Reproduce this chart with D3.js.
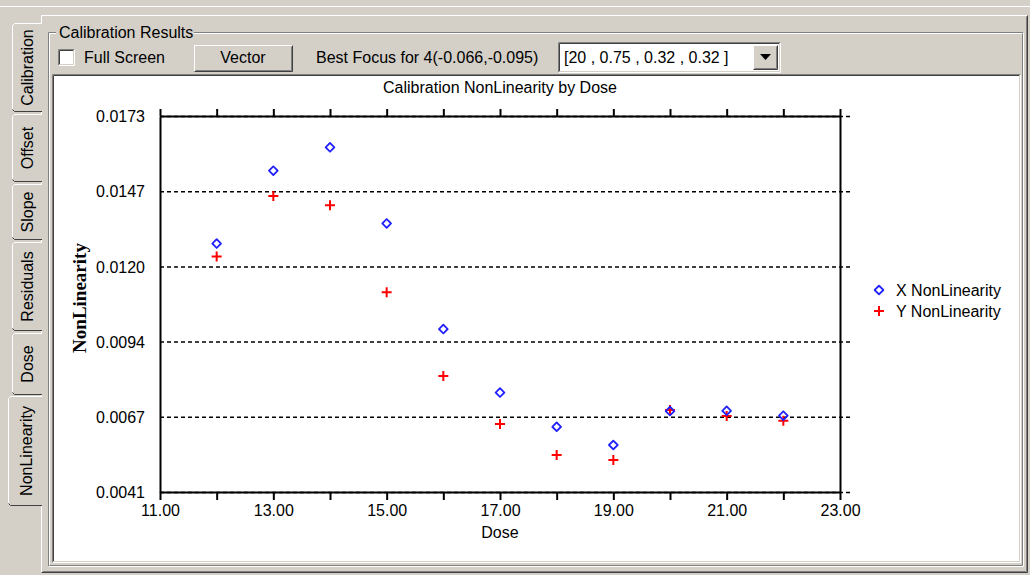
<!DOCTYPE html>
<html>
<head>
<meta charset="utf-8">
<script src="https://cdn.jsdelivr.net/npm/d3@7"></script>
<style>
  body { margin: 0; background: #d4d0c8; }
  text { font-family: "Liberation Sans", Arial, sans-serif; fill: #000; }
</style>
</head>
<body>
<div id="chart"></div>
<script>
// data
var doses = [12, 13, 14, 15, 16, 17, 18, 19, 20, 21, 22];
var xNonLinearity = [0.01282, 0.01538, 0.01620, 0.01353, 0.00982, 0.00759, 0.00639, 0.00575, 0.00694, 0.00695, 0.00678];
var yNonLinearity = [0.01237, 0.01449, 0.01417, 0.01111, 0.00817, 0.00649, 0.00540, 0.00522, 0.00698, 0.00677, 0.00660];
var yTickValues = [0.0041, 0.00674, 0.00938, 0.01202, 0.01466, 0.0173];
var xTickValues = [11, 12, 13, 14, 15, 16, 17, 18, 19, 20, 21, 22, 23];
var tabNames = ["Calibration", "Offset", "Slope", "Residuals", "Dose", "NonLinearity"];
var tabEdges = [22, 113, 183, 241, 332, 396, 506];
var seriesNames = ["X NonLinearity", "Y NonLinearity"];

var svgWidth = 1030;
var svgHeight = 575;

var grey = "#d4d0c8", dark = "#808080", darker = "#404040";

var svg = d3.select("#chart")
  .append("svg")
  .attr("width", svgWidth)
  .attr("height", svgHeight);

svg.append("rect").attr("width", svgWidth).attr("height", svgHeight).attr("fill", grey);

// helper: 3d box edges
function bevel(x0, y0, x1, y1, tl, br) {
  svg.append("path").attr("d", `M${x0},${y1}V${y0}H${x1}`).attr("fill", "none").attr("stroke", tl);
  svg.append("path").attr("d", `M${x0},${y1}H${x1}V${y0}`).attr("fill", "none").attr("stroke", br);
}

// window frame lines at top
svg.append("line").attr("x1", 0).attr("x2", svgWidth).attr("y1", 6.5).attr("y2", 6.5).attr("stroke", "#fff");

// tab page frame
bevel(41.5, 15.5, 1027.5, 572.5, "#fff", darker);
bevel(42.5, 16.5, 1026.5, 571.5, grey, dark);

// left tabs
tabNames.forEach(function(name, i) {
  var sel = i === tabNames.length - 1;
  var x0 = sel ? 8 : 12, y0 = tabEdges[i] + (sel ? 0 : 1), y1 = tabEdges[i + 1] - (sel ? 0 : 1);
  var g = svg.append("g");
  g.append("rect").attr("x", x0).attr("y", y0).attr("width", 42 - x0 + (sel ? 2 : 0)).attr("height", y1 - y0).attr("fill", grey);
  g.append("path").attr("d", `M42,${y0 + 0.5}H${x0 + 2.5}L${x0 + 0.5},${y0 + 2.5}V${y1 - 2.5}`)
    .attr("fill", "none").attr("stroke", "#fff");
  g.append("path").attr("d", `M${x0 + 0.5},${y1 - 2.5}L${x0 + 2.5},${y1 - 0.5}H42`)
    .attr("fill", "none").attr("stroke", darker);
  g.append("text")
    .attr("transform", `translate(${sel ? 32 : 33},${(y0 + y1) / 2}) rotate(-90)`)
    .attr("text-anchor", "middle")
    .style("font-size", "16px")
    .text(name);
});

// group box
bevel(48.5, 32.5, 1023.5, 566.5, dark, "#fff");
bevel(49.5, 33.5, 1022.5, 565.5, "#fff", dark);
svg.append("rect").attr("x", 56).attr("y", 22).attr("width", 138).attr("height", 20).attr("fill", grey);
svg.append("text").attr("x", 59).attr("y", 38).style("font-size", "16px").text("Calibration Results");

// checkbox
svg.append("rect").attr("x", 58).attr("y", 49).attr("width", 16).attr("height", 16).attr("fill", "#fff");
bevel(58.5, 49.5, 74.5, 65.5, dark, "#fff");
bevel(59.5, 50.5, 73.5, 64.5, darker, grey);
svg.append("text").attr("x", 84).attr("y", 63).style("font-size", "16px").text("Full Screen");

// Vector button
bevel(194.5, 45.5, 292.5, 71.5, "#fff", darker);
bevel(195.5, 46.5, 291.5, 70.5, grey, dark);
svg.append("text").attr("x", 243).attr("y", 63).attr("text-anchor", "middle").style("font-size", "16px").text("Vector");

svg.append("text").attr("x", 316).attr("y", 63).style("font-size", "16px").text("Best Focus for 4(-0.066,-0.095)");

// combo box
svg.append("rect").attr("x", 558).attr("y", 42).attr("width", 222).attr("height", 30).attr("fill", "#fff");
bevel(558.5, 42.5, 780.5, 72.5, dark, "#fff");
bevel(559.5, 43.5, 779.5, 71.5, darker, grey);
svg.append("text").attr("x", 564).attr("y", 63).style("font-size", "16px").text("[20 , 0.75 , 0.32 , 0.32 ]");
svg.append("rect").attr("x", 753).attr("y", 45).attr("width", 25).attr("height", 25).attr("fill", grey);
bevel(753.5, 45.5, 777.5, 69.5, "#fff", darker);
bevel(754.5, 46.5, 776.5, 68.5, grey, dark);
svg.append("path").attr("d", "M760,54H771L765.5,60Z").attr("fill", "#000");

// plot panel
svg.append("rect").attr("x", 52).attr("y", 74).attr("width", 968).attr("height", 488).attr("fill", "#fff");
bevel(52.5, 74.5, 1020.5, 562.5, dark, "#fff");
bevel(53.5, 75.5, 1019.5, 561.5, darker, grey);

// ---- chart ----
var chartLeft = 160, chartRight = 840, chartTop = 116, chartBottom = 492;

var xLinearScale = d3.scaleLinear().domain([11, 23]).range([chartLeft, chartRight]);
var yLinearScale = d3.scaleLinear().domain([0.0041, 0.0173]).range([chartBottom, chartTop]);

var chartGroup = svg.append("g");

// dashed grid lines, poking past the right axis
var grid = chartGroup.append("g")
  .attr("transform", `translate(${chartLeft},0)`)
  .call(d3.axisRight(yLinearScale).tickValues(yTickValues).tickSize(chartRight - chartLeft + 12).tickFormat(""));
grid.select(".domain").remove();
grid.selectAll("line").attr("stroke", "#000").attr("stroke-width", 1.5).attr("stroke-dasharray", "4,3");

// axes
var bottomAxis = d3.axisBottom(xLinearScale).tickValues(xTickValues).tickSize(8).tickSizeOuter(0)
  .tickFormat(function(d) { return d % 2 ? d.toFixed(2) : ""; });
var topAxis = d3.axisTop(xLinearScale).tickValues(xTickValues).tickSize(7).tickSizeOuter(0).tickFormat("");
var leftAxis = d3.axisLeft(yLinearScale).tickValues(yTickValues).tickSize(0).tickSizeOuter(0)
  .tickPadding(15).tickFormat(d3.format(".4f"));
var rightAxis = d3.axisRight(yLinearScale).tickValues([]).tickSizeOuter(0);

var bAx = chartGroup.append("g").attr("transform", `translate(0,${chartBottom})`).call(bottomAxis);
var tAx = chartGroup.append("g").attr("transform", `translate(0,${chartTop})`).call(topAxis);
var lAx = chartGroup.append("g").attr("transform", `translate(${chartLeft},0)`).call(leftAxis);
var rAx = chartGroup.append("g").attr("transform", `translate(${chartRight},0)`).call(rightAxis);

[bAx, tAx, lAx, rAx].forEach(function(a) {
  a.select(".domain").attr("stroke", "#000").attr("stroke-width", 2);
  a.selectAll(".tick line").attr("stroke", "#000").attr("stroke-width", 2);
  a.selectAll("text").style("font-size", "16px").attr("font-family", null);
});
bAx.selectAll("text").attr("dy", "0.95em").attr("y", 9);
lAx.selectAll("text").attr("dy", "0.35em");

// title and axis labels
chartGroup.append("text").attr("x", 500).attr("y", 93).attr("text-anchor", "middle")
  .style("font-size", "16px").text("Calibration NonLinearity by Dose");
chartGroup.append("text").attr("x", 500).attr("y", 538).attr("text-anchor", "middle")
  .style("font-size", "16px").text("Dose");
chartGroup.append("text")
  .attr("transform", "translate(86,298) rotate(-90)")
  .attr("text-anchor", "middle")
  .style("font-family", "'Liberation Serif', 'Times New Roman', serif")
  .style("font-weight", "bold")
  .style("font-size", "19px")
  .text("NonLinearity");

// markers
var diamond = d3.symbol(d3.symbolSquare, 38)();
var plus = "M-5,0H5M0,-5V5";

chartGroup.append("g").selectAll("path")
  .data(doses)
  .enter()
  .append("path")
  .attr("transform", function(d, i) { return `translate(${xLinearScale(d)},${yLinearScale(yNonLinearity[i])})`; })
  .attr("d", plus)
  .attr("stroke", "#ff0000")
  .attr("stroke-width", 2)
  .attr("fill", "none");

chartGroup.append("g").selectAll("path")
  .data(doses)
  .enter()
  .append("path")
  .attr("transform", function(d, i) { return `translate(${xLinearScale(d)},${yLinearScale(xNonLinearity[i])}) rotate(45)`; })
  .attr("d", diamond)
  .attr("stroke", "#2020ff")
  .attr("stroke-width", 1.8)
  .attr("stroke-linejoin", "round")
  .attr("fill", "none");

// legend
var legend = chartGroup.append("g").attr("transform", "translate(879,290)");
legend.append("path").attr("transform", "rotate(45)").attr("d", diamond)
  .attr("stroke", "#2020ff").attr("stroke-width", 1.8).attr("stroke-linejoin", "round").attr("fill", "none");
legend.append("path").attr("transform", "translate(0,21)").attr("d", plus)
  .attr("stroke", "#ff0000").attr("stroke-width", 2).attr("fill", "none");
legend.selectAll("text")
  .data(seriesNames)
  .enter()
  .append("text")
  .attr("x", 17)
  .attr("y", function(d, i) { return i * 21; })
  .attr("dy", "0.35em")
  .style("font-size", "16px")
  .text(function(d) { return d; });
</script>
</body>
</html>
